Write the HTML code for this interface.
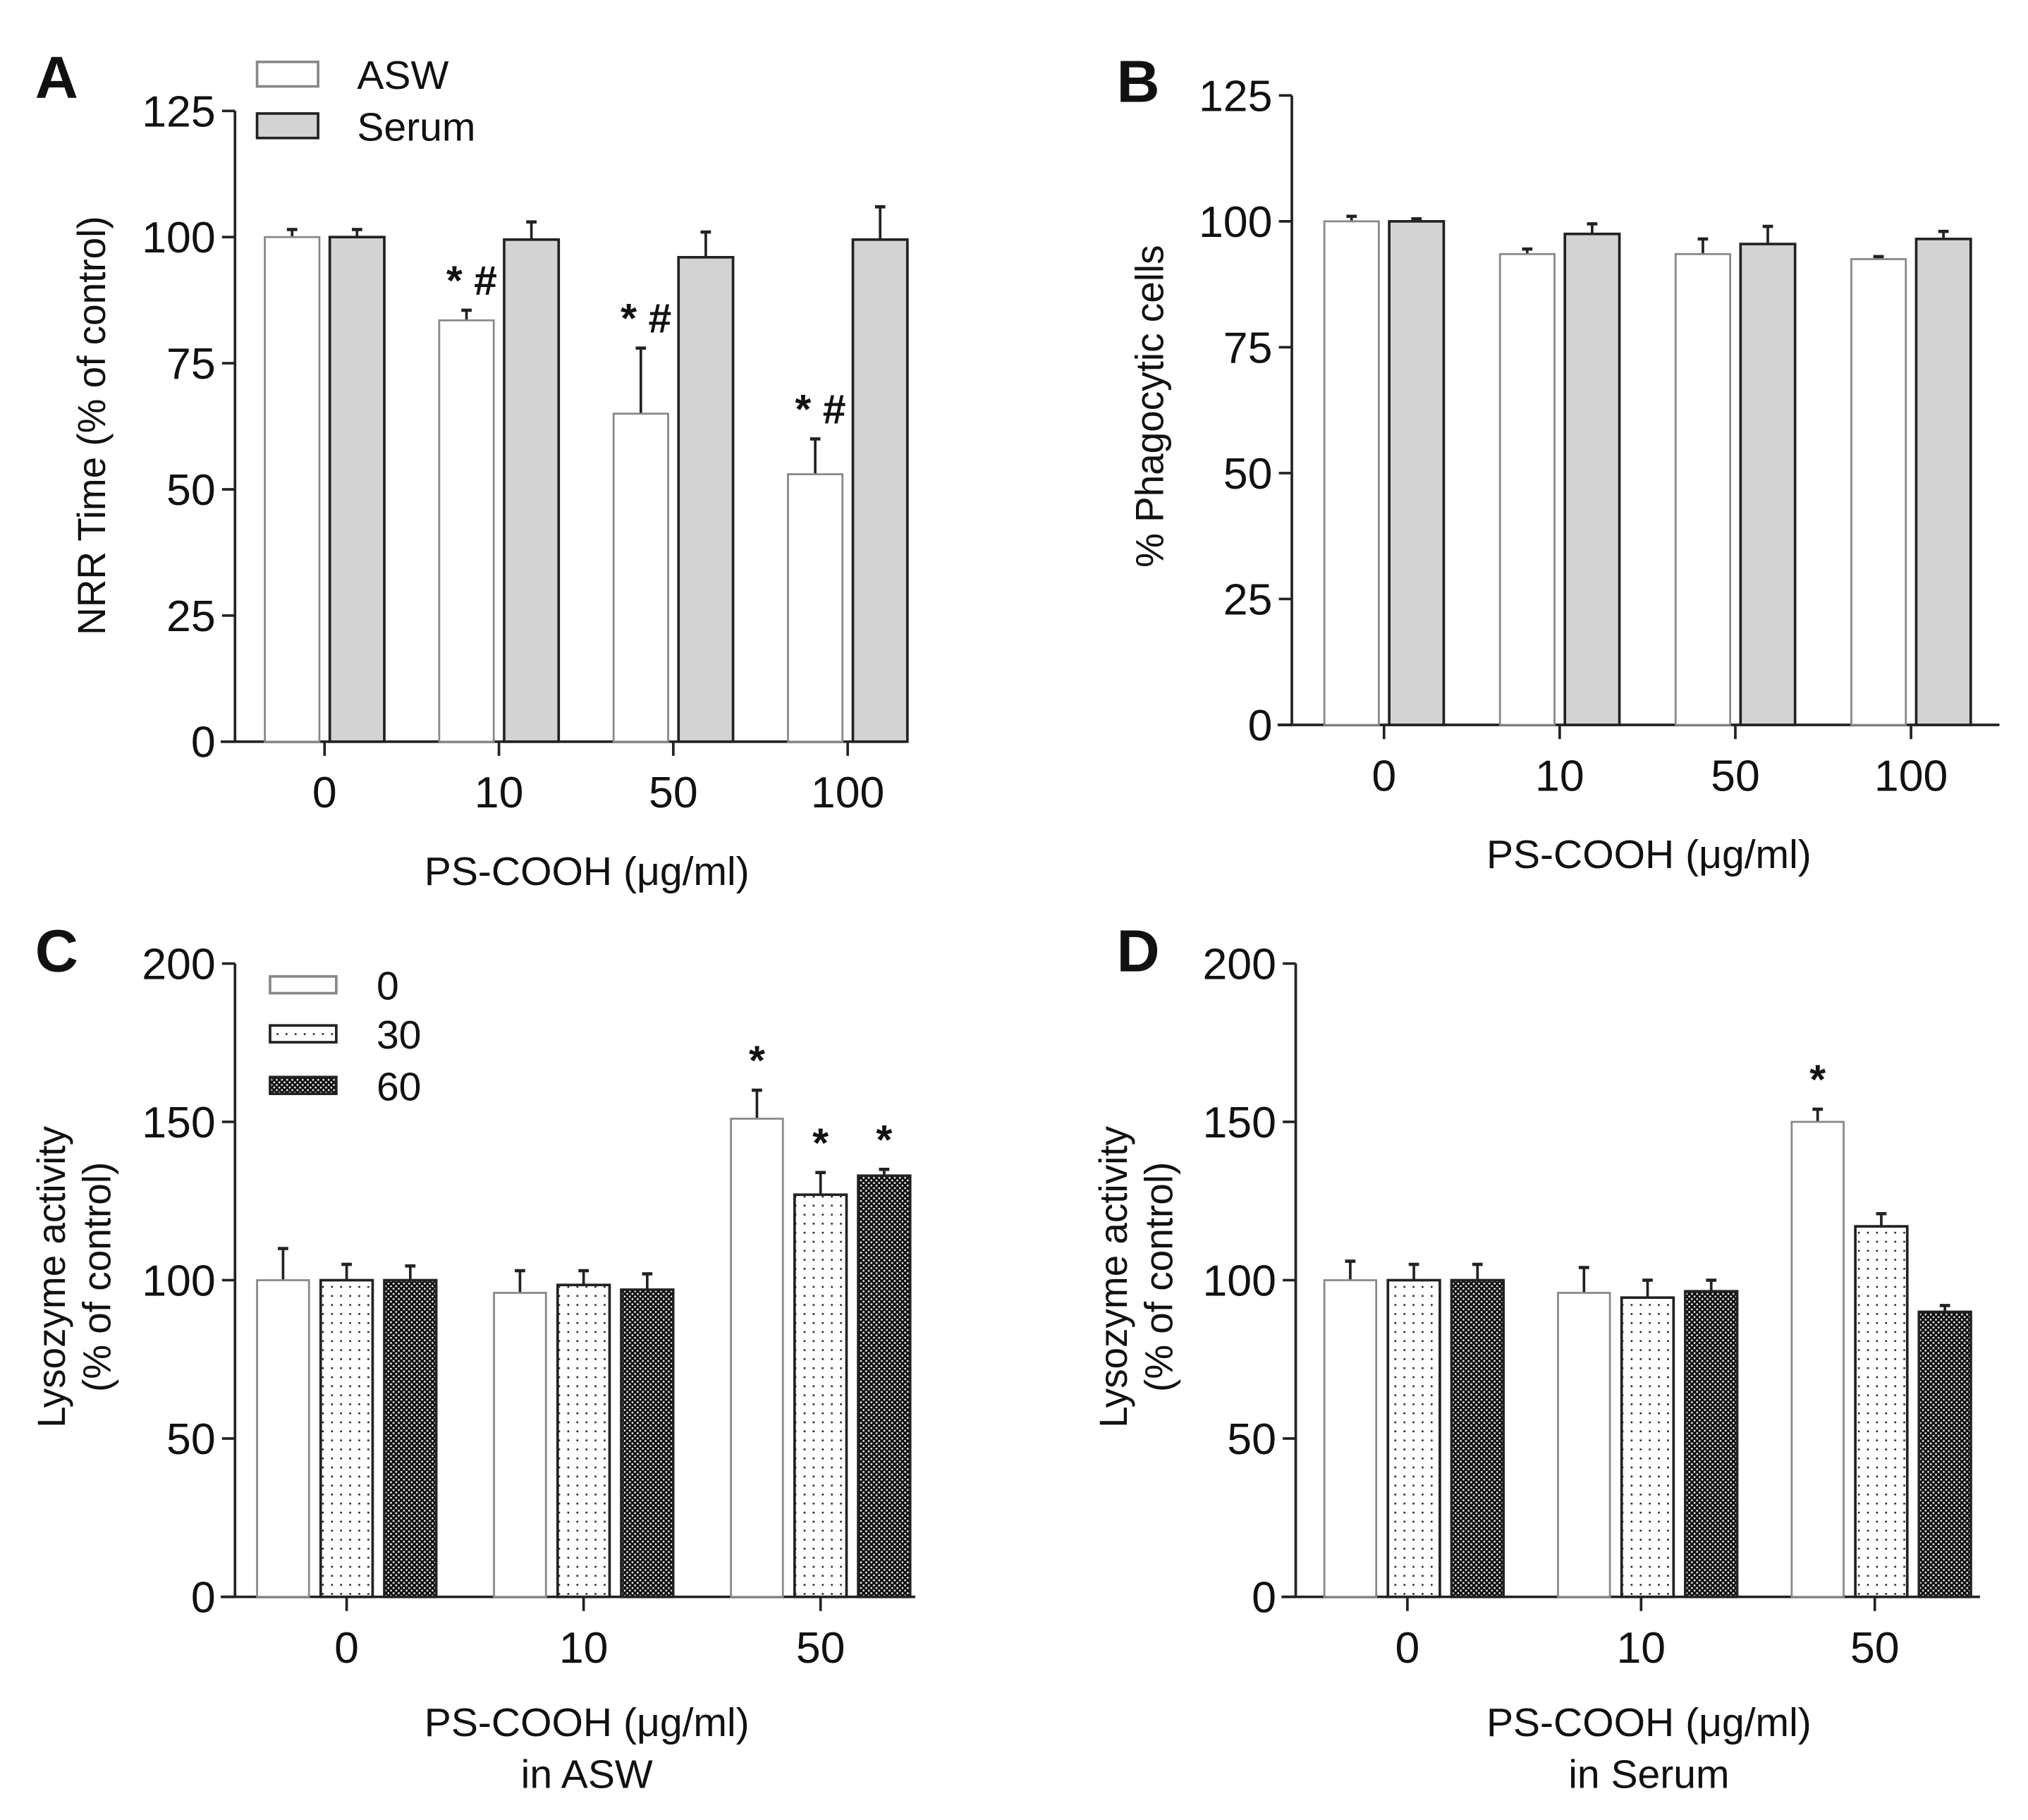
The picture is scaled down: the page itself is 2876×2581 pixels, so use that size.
<!DOCTYPE html>
<html><head><meta charset="utf-8"><style>
html,body{margin:0;padding:0;background:#fff}
svg{display:block}
text{font-family:"Liberation Sans",Arial,sans-serif;fill:#111}
</style></head><body>
<svg id="fig" width="2876" height="2581" viewBox="0 0 1562 1411" preserveAspectRatio="none" xmlns="http://www.w3.org/2000/svg">
<defs>
<pattern id="dots" width="7" height="7" patternUnits="userSpaceOnUse"><rect width="7" height="7" fill="#fff"/><rect x="3" y="3" width="1.4" height="1.4" fill="#222"/></pattern>
<pattern id="check" width="4" height="4" patternUnits="userSpaceOnUse"><rect width="4" height="4" fill="#111"/><rect x="0.5" y="0.5" width="1.3" height="1.3" fill="#fff"/><rect x="2.5" y="2.5" width="1.3" height="1.3" fill="#fff"/></pattern>
</defs>
</svg>
<script>
const catsA=["0","10","50","100"];
const aswA=[100,83.5,65,53];
const aswAerr=[1.5,2,13,7];
const serA=[100,99.5,96,99.5];
const serAerr=[1.5,3.5,5,6.5];
const annA=["","*  #","*  #","*  #"];
const ticksAB=[0,25,50,75,100,125];
const catsB=["0","10","50","100"];
const aswB=[100,93.5,93.5,92.5];
const aswBerr=[1,1,3,0.5];
const serB=[100,97.5,95.5,96.5];
const serBerr=[0.5,2,3.5,1.5];
const catsCD=["0","10","50"];
const c0=[100,96,151];
const c0err=[10,7,9];
const c30=[100,98.5,127];
const c30err=[5,4.5,7];
const c60=[100,97,133];
const c60err=[4.5,5,2];
const annC0=["","","*"];
const annC30=["","","*"];
const annC60=["","","*"];
const d0=[100,96,150];
const d0err=[6,8,4];
const d30=[100,94.5,117];
const d30err=[5,5.5,4];
const d60=[100,96.5,90];
const d60err=[5,3.5,2];
const annD0=["","","*"];
const ticksCD=[0,50,100,150,200];

const svg=document.getElementById('fig');
const NS='http://www.w3.org/2000/svg';
function mk(tag,attrs,txt){const e=document.createElementNS(NS,tag);for(const k in attrs)e.setAttribute(k,attrs[k]);if(txt!==undefined)e.textContent=txt;svg.appendChild(e);return e;}

function panel(o){
  const ys=v=>o.y0-(v/o.ymax)*(o.y0-o.ytop);
  const xs=i=>o.cx0+i*o.step;
  let e=mk('line',{x1:o.ax,y1:ys(o.ymax),x2:o.ax,y2:o.y0,stroke:'#222','stroke-width':2});
  
  
  e=mk('line',{x1:o.ax-11,y1:o.y0,x2:o.xend,y2:o.y0,stroke:'#222','stroke-width':2});
  
  
  o.ticks.forEach(t=>{
    let l=mk('line',{x1:o.ax-10,y1:ys(t),x2:o.ax,y2:ys(t),stroke:'#222','stroke-width':2});
    
    
    let tx=mk('text',{x:o.ax-15,y:ys(t)+12,'text-anchor':'end','font-size':34},String(t));
    
    
  });
  o.cats.forEach((c,i)=>{
    let l=mk('line',{x1:xs(i),y1:o.y0,x2:xs(i),y2:o.y0+11,stroke:'#222','stroke-width':2});
    
    
    let tx=mk('text',{x:xs(i),y:o.y0+51,'text-anchor':'middle','font-size':34},c);
    
    
  });
  o.series.forEach((s,si)=>{
    s.vals.forEach((v,i)=>{
      const x=xs(i)+s.off, top=ys(v), et=ys(v+s.err[i]);
      let el=mk('line',{x1:x+o.bw/2,y1:top,x2:x+o.bw/2,y2:et,stroke:'#222','stroke-width':2});
      
      
      el=mk('line',{x1:x+o.bw/2-4,y1:et,x2:x+o.bw/2+4,y2:et,stroke:'#222','stroke-width':2.5});
      
      
      const r=mk('rect',{x:x,y:top,width:o.bw,height:o.y0-top,fill:s.fill,stroke:s.stroke,'stroke-width':s.sw});
      
      
      if(s.ann&&s.ann[i]){
        const a=mk('text',{x:x+o.bw/2+(s.annDx||0),y:et-(s.annGap||12),'text-anchor':'middle','font-size':32,'font-weight':'bold','xml:space':'preserve'},s.ann[i]);
        
        
      }
    });
  });
  let t=mk('text',{x:o.ltx,y:o.lty,'font-size':46,'font-weight':'bold'},o.letter);
  
  
  o.xtitle.forEach((line,k)=>{
    const x=mk('text',{x:o.xtx,y:o.xty+k*40,'text-anchor':'middle','font-size':31},line);
    
    
  });
  o.ytitle.forEach((line,k)=>{
    const yx=o.ytx+k*35;
    const y=mk('text',{x:0,y:0,'text-anchor':'middle','font-size':30,transform:`translate(${yx},${o.yty}) rotate(-90)`},line);
    
    
  });
}
const WHITE={fill:'#fff',stroke:'#888',sw:1.5};
panel({id:'panel-a',letter:'A',ltx:27,lty:76,ax:181,y0:575,ytop:86,ymax:125,xend:697,cx0:250,step:134.3,bw:42,cats:catsA,ticks:ticksAB,
  series:[{name:'asw',vals:aswA,err:aswAerr,off:-46,...WHITE,ann:annA,annGap:12,annDx:4},{name:'serum',vals:serA,err:serAerr,off:4,fill:'#d3d3d3',stroke:'#222',sw:2}],
  xtitle:['PS-COOH (\u03bcg/ml)'],xtx:452,xty:686,ytitle:['NRR Time (% of control)'],ytx:81,yty:330});
panel({id:'panel-b',letter:'B',ltx:860,lty:79,ax:995,y0:562,ytop:74,ymax:125,xend:1540,cx0:1066,step:135.3,bw:42,cats:catsB,ticks:ticksAB,
  series:[{name:'asw',vals:aswB,err:aswBerr,off:-46,...WHITE},{name:'serum',vals:serB,err:serBerr,off:4,fill:'#d3d3d3',stroke:'#222',sw:2}],
  xtitle:['PS-COOH (\u03bcg/ml)'],xtx:1270,xty:673,ytitle:['% Phagocytic cells'],ytx:896,yty:315});
panel({id:'panel-c',letter:'C',ltx:27,lty:753,ax:181,y0:1238,ytop:747,ymax:200,xend:705,cx0:267,step:182.5,bw:40,cats:catsCD,ticks:ticksCD,
  series:[{name:'0',vals:c0,err:c0err,off:-69,...WHITE,ann:annC0},{name:'30',vals:c30,err:c30err,off:-20,fill:'url(#dots)',stroke:'#222',sw:2,ann:annC30},{name:'60',vals:c60,err:c60err,off:29,fill:'url(#check)',stroke:'#222',sw:2,ann:annC60}],
  xtitle:['PS-COOH (\u03bcg/ml)','in ASW'],xtx:452,xty:1346,ytitle:['Lysozyme activity','(% of control)'],ytx:50,yty:990});
panel({id:'panel-d',letter:'D',ltx:860,lty:753,ax:998,y0:1238,ytop:747,ymax:200,xend:1525,cx0:1084,step:180,bw:40,cats:catsCD,ticks:ticksCD,
  series:[{name:'0',vals:d0,err:d0err,off:-64,...WHITE,ann:annD0},{name:'30',vals:d30,err:d30err,off:-15,fill:'url(#dots)',stroke:'#222',sw:2},{name:'60',vals:d60,err:d60err,off:34,fill:'url(#check)',stroke:'#222',sw:2}],
  xtitle:['PS-COOH (\u03bcg/ml)','in Serum'],xtx:1270,xty:1346,ytitle:['Lysozyme activity','(% of control)'],ytx:868,yty:990});
const legA=[['ASW','#fff','#888',48],['Serum','#d3d3d3','#222',88]];
legA.forEach(l=>{
  let r=mk('rect',{x:198,y:l[3],width:47,height:19,fill:l[1],stroke:l[2],'stroke-width':2});
  
  
  let t=mk('text',{x:275,y:l[3]+21,'font-size':31},l[0]);
  
  
});
const legC=[['0','#fff','#888',757],['30','url(#dots)','#222',795],['60','url(#check)','#222',835]];
legC.forEach(l=>{
  let r=mk('rect',{x:208,y:l[3],width:51,height:13,fill:l[1],stroke:l[2],'stroke-width':2});
  
  
  let t=mk('text',{x:290,y:l[3]+18,'font-size':31},l[0]);
  
  
});
</script>
</body></html>
